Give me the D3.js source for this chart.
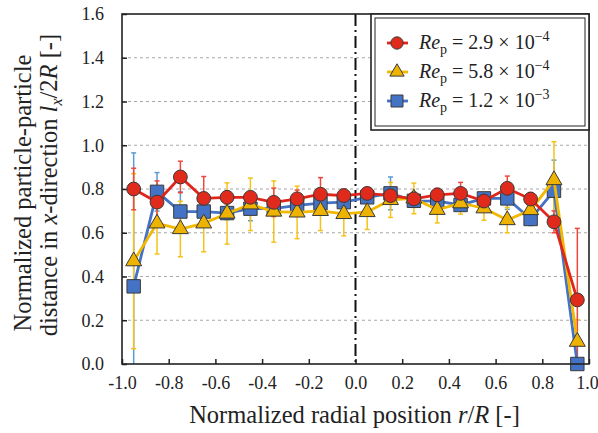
<!DOCTYPE html>
<html>
<head>
<meta charset="utf-8">
<script src="https://cdn.jsdelivr.net/npm/d3@7"></script>
<style>
  body { margin: 0; background: #fff; }
  text { font-family: "Liberation Serif", "Times New Roman", serif; fill: #222; }
</style>
</head>
<body>
<script>
// radial positions (bin centres)
var positions = [-0.95, -0.85, -0.75, -0.65, -0.55, -0.45, -0.35, -0.25, -0.15, -0.05,
                 0.05, 0.15, 0.25, 0.35, 0.45, 0.55, 0.65, 0.75, 0.85, 0.95];

// Re_p = 2.9e-4 (red circles)
var redMean = [0.80, 0.74, 0.855, 0.757, 0.762, 0.762, 0.739, 0.755, 0.776, 0.77,
               0.78, 0.77, 0.755, 0.773, 0.78, 0.745, 0.803, 0.754, 0.65, 0.293];
var redErr  = [0.095, 0.097, 0.072, 0.10, 0.03, 0.02, 0.065, 0.04, 0.076, 0.03,
               0.02, 0.02, 0.03, 0.03, 0.05, 0.03, 0.056, 0.03, 0.05, 0.327];

// Re_p = 5.8e-4 (yellow triangles)
var yellowMean = [0.47, 0.643, 0.617, 0.643, 0.688, 0.73, 0.697, 0.693, 0.70, 0.686,
                  0.695, 0.75, 0.757, 0.705, 0.735, 0.712, 0.658, 0.704, 0.841, 0.102];
var yellowErr  = [0.40, 0.14, 0.127, 0.13, 0.14, 0.12, 0.14, 0.12, 0.09, 0.10,
                  0.08, 0.08, 0.07, 0.06, 0.05, 0.055, 0.058, 0.04, 0.175, 0.10];

// Re_p = 1.2e-3 (blue squares)
var blueMean = [0.355, 0.787, 0.697, 0.697, 0.69, 0.71, 0.71, 0.725, 0.735, 0.74,
                0.762, 0.78, 0.746, 0.745, 0.727, 0.757, 0.757, 0.663, 0.792, 0.0];
var blueErr  = [0.61, 0.088, 0.09, 0.04, 0.03, 0.055, 0.03, 0.03, 0.03, 0.02,
                0.02, 0.075, 0.03, 0.02, 0.02, 0.02, 0.05, 0.03, 0.14, 0.0];

var xTicks = [-1.0, -0.8, -0.6, -0.4, -0.2, 0.0, 0.2, 0.4, 0.6, 0.8, 1.0];
var yTicks = [0.0, 0.2, 0.4, 0.6, 0.8, 1.0, 1.2, 1.4, 1.6];
var legendExp = ["2.9", "5.8", "1.2"];
var legendPow = ["\u22124", "\u22124", "\u22123"];

var margin = {top: 14, right: 9, bottom: 69, left: 122},
    width = 598 - margin.left - margin.right,
    height = 433 - margin.top - margin.bottom;

var x = d3.scaleLinear().domain([-1, 1]).range([0, width]);
var y = d3.scaleLinear().domain([0, 1.6]).range([height, 0]);

var svg = d3.select("body").append("svg")
    .attr("width", 598)
    .attr("height", 433);
var g = svg.append("g")
    .attr("transform", "translate(" + margin.left + "," + margin.top + ")");

// dashed grid
g.selectAll(".grid")
    .data(yTicks.filter(function (d) { return d > 0 && d < 1.6; }))
    .enter().append("line")
    .attr("x1", 0).attr("x2", width)
    .attr("y1", function (d) { return y(d); })
    .attr("y2", function (d) { return y(d); })
    .style("stroke", "#a8a8a8")
    .style("stroke-width", 1)
    .style("stroke-dasharray", "3,3");

// centre line
g.append("line")
    .attr("x1", x(0)).attr("x2", x(0))
    .attr("y1", 0).attr("y2", height)
    .style("stroke", "#111")
    .style("stroke-width", 2)
    .style("stroke-dasharray", "12,4,2,4");

// axes
var xAxis = g.append("g")
    .attr("transform", "translate(0," + height + ")")
    .call(d3.axisBottom(x).tickValues(xTicks).tickSizeInner(-5).tickSizeOuter(0)
        .tickPadding(12).tickFormat(function (d) { return d.toFixed(1); }));
var yAxis = g.append("g")
    .call(d3.axisLeft(y).tickValues(yTicks).tickSizeInner(-5).tickSizeOuter(0)
        .tickPadding(18).tickFormat(function (d) { return d.toFixed(1); }));
[xAxis, yAxis].forEach(function (a) {
    a.select(".domain").remove();
    a.selectAll(".tick line").style("stroke", "#222").style("stroke-width", 1.5);
    a.selectAll("text").style("font-size", "18px")
        .style("font-family", "'Liberation Serif', serif").style("fill", "#222");
});
// keep the last label inside the page edge
xAxis.selectAll(".tick text").filter(function (d) { return d === 1; }).attr("dx", -2);

var series = [
    {mean: blueMean, err: blueErr, line: "#4472c4", bar: "#5b9bd5", fill: "#4472c4", sym: d3.symbolSquare, size: 180},
    {mean: yellowMean, err: yellowErr, line: "#f2b800", bar: "#f5c21a", fill: "#eeb200", sym: d3.symbolTriangle, size: 110},
    {mean: redMean, err: redErr, line: "#e0261b", bar: "#f0473c", fill: "#e02a1b", sym: d3.symbolCircle, size: 150}
];

// error bars
series.forEach(function (s) {
    var bars = g.append("g");
    positions.forEach(function (p, i) {
        if (s.err[i] <= 0) return;
        var lo = Math.max(0, s.mean[i] - s.err[i]), hi = s.mean[i] + s.err[i];
        bars.append("line")
            .attr("x1", x(p)).attr("x2", x(p))
            .attr("y1", y(lo)).attr("y2", y(hi))
            .style("stroke", s.bar).style("stroke-width", 1.5);
        [lo, hi].forEach(function (v) {
            if (v <= 0) return;
            bars.append("line")
                .attr("x1", x(p) - 2.5).attr("x2", x(p) + 2.5)
                .attr("y1", y(v)).attr("y2", y(v))
                .style("stroke", s.bar).style("stroke-width", 1.5);
        });
    });
});

var valueline = d3.line()
    .x(function (d) { return x(d[0]); })
    .y(function (d) { return y(d[1]); });

series.forEach(function (s) {
    var pts = positions.map(function (p, i) { return [p, s.mean[i]]; });
    g.append("path")
        .datum(pts)
        .attr("d", valueline)
        .style("fill", "none")
        .style("stroke", s.line)
        .style("stroke-width", 2.8);
    g.selectAll(null)
        .data(pts)
        .enter().append("path")
        .attr("transform", function (d) { return "translate(" + x(d[0]) + "," + y(d[1]) + ")"; })
        .attr("d", d3.symbol().type(s.sym).size(s.size))
        .style("fill", s.fill)
        .style("stroke", "#3a3a3a")
        .style("stroke-width", 1);
});

// frame
g.append("rect")
    .attr("width", width).attr("height", height)
    .style("fill", "none").style("stroke", "#222").style("stroke-width", 1.6);

// legend
var leg = svg.append("g");
leg.append("rect").attr("x", 371).attr("y", 14).attr("width", 218).attr("height", 116)
    .style("fill", "#fff").style("stroke", "#222").style("stroke-width", 1.6);
leg.append("rect").attr("x", 375).attr("y", 18).attr("width", 210).attr("height", 108)
    .style("fill", "none").style("stroke", "#222").style("stroke-width", 1);
var legSeries = [series[2], series[1], series[0]];
legSeries.forEach(function (s, i) {
    var cy = 43 + i * 29;
    leg.append("line").attr("x1", 387).attr("x2", 408).attr("y1", cy).attr("y2", cy)
        .style("stroke", s.line).style("stroke-width", 2.8);
    leg.append("path")
        .attr("transform", "translate(397," + cy + ")")
        .attr("d", d3.symbol().type(s.sym).size(s.size * 0.8))
        .style("fill", s.fill).style("stroke", "#3a3a3a").style("stroke-width", 1);
    var t = leg.append("text").attr("x", 419).attr("y", cy + 6).style("font-size", "20px");
    t.append("tspan").style("font-style", "italic").text("Re");
    t.append("tspan").attr("dy", 5).style("font-size", "14px").text("p");
    t.append("tspan").attr("dy", -5).text(" = " + legendExp[i] + " \u00d7 10");
    t.append("tspan").attr("dy", -8).style("font-size", "14px").text(legendPow[i]);
});

// axis titles
svg.append("text")
    .attr("x", margin.left + width / 2 - 1).attr("y", 423)
    .attr("text-anchor", "middle").style("font-size", "24.5px")
    .call(function (t) {
        t.append("tspan").text("Normalized radial position ");
        t.append("tspan").style("font-style", "italic").text("r");
        t.append("tspan").text("/");
        t.append("tspan").style("font-style", "italic").text("R");
        t.append("tspan").text(" [-]");
    });

var yt = svg.append("g").attr("transform", "translate(0," + (margin.top + height / 2) + ") rotate(-90)");
yt.append("text").attr("x", -4).attr("y", 31)
    .attr("text-anchor", "middle").style("font-size", "24.5px")
    .text("Normalized particle-particle");
yt.append("text").attr("x", 4).attr("y", 57)
    .attr("text-anchor", "middle").style("font-size", "24.5px")
    .call(function (t) {
        t.append("tspan").text("distance in ");
        t.append("tspan").style("font-style", "italic").text("x");
        t.append("tspan").text("-direction ");
        t.append("tspan").style("font-style", "italic").text("l");
        t.append("tspan").attr("dy", 5).style("font-size", "16px").style("font-style", "italic").text("x");
        t.append("tspan").attr("dy", -5).text("/2");
        t.append("tspan").style("font-style", "italic").text("R");
        t.append("tspan").text(" [-]");
    });
</script>
</body>
</html>
